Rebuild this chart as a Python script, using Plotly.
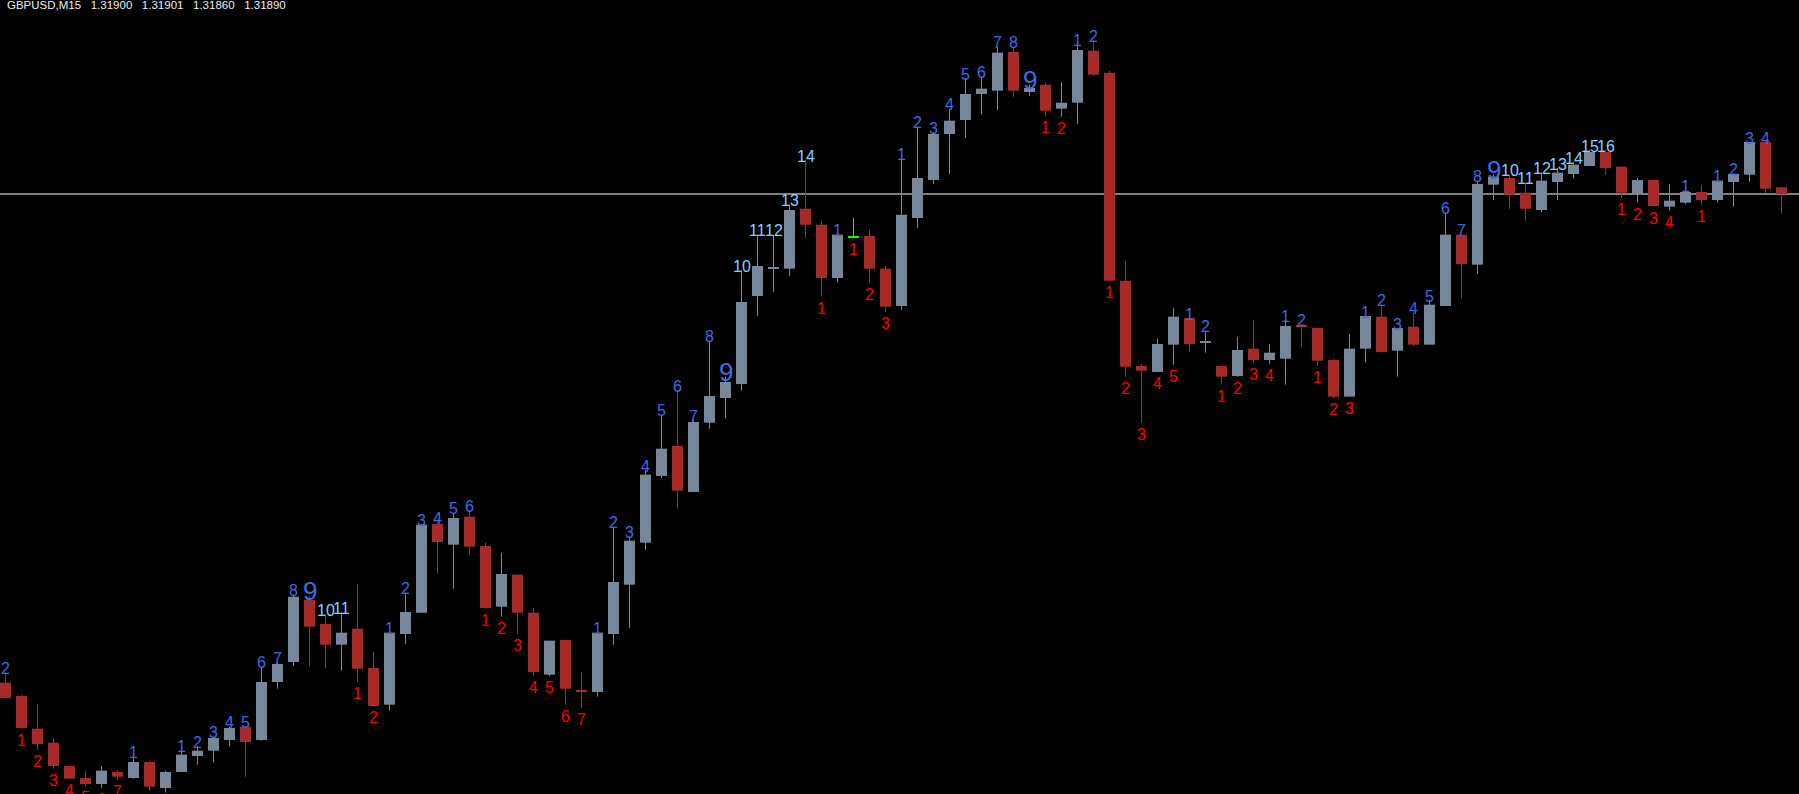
import plotly.graph_objects as go

symbol = "GBPUSD,M15"
bid = 1.31890

opens = [1.31157, 1.31137, 1.31088, 1.31067, 1.31032, 1.31014, 1.31005, 1.31023, 1.31014, 1.31038,
         1.30999, 1.31023, 1.31047, 1.31055, 1.31071, 1.31091, 1.31071, 1.31158, 1.31188, 1.31281,
         1.31245, 1.31214, 1.31238, 1.31179, 1.31124, 1.31230, 1.31262, 1.31395, 1.31364, 1.31406,
         1.31362, 1.31271, 1.31319, 1.31262, 1.31169, 1.31221, 1.31145, 1.31143, 1.31230, 1.31304,
         1.31367, 1.31467, 1.31512, 1.31443, 1.31547, 1.31584, 1.31605, 1.31737, 1.31778, 1.31778,
         1.31868, 1.31844, 1.31764, 1.31826, 1.31827, 1.31778, 1.31722, 1.31854, 1.31911, 1.31980,
         1.32001, 1.32040, 1.32045, 1.32103, 1.32043, 1.32054, 1.32018, 1.32027, 1.32105, 1.32072,
         1.31760, 1.31632, 1.31623, 1.31664, 1.31704, 1.31667, 1.31632, 1.31617, 1.31658, 1.31641,
         1.31643, 1.31692, 1.31689, 1.31641, 1.31586, 1.31658, 1.31706, 1.31655, 1.31691, 1.31664,
         1.31722, 1.31829, 1.31784, 1.31904, 1.31914, 1.31892, 1.31866, 1.31908, 1.31920, 1.31932,
         1.31953, 1.31931, 1.31890, 1.31911, 1.31871, 1.31877, 1.31893, 1.31881, 1.31908, 1.31919,
         1.31968, 1.31900]

highs = [1.31172, 1.31139, 1.31125, 1.31073, 1.31032, 1.31025, 1.31032, 1.31026, 1.31046, 1.31040,
         1.31025, 1.31056, 1.31062, 1.31076, 1.31091, 1.31092, 1.31181, 1.31188, 1.31289, 1.31287,
         1.31260, 1.31263, 1.31305, 1.31203, 1.31232, 1.31292, 1.31395, 1.31398, 1.31412, 1.31415,
         1.31367, 1.31352, 1.31319, 1.31269, 1.31220, 1.31221, 1.31173, 1.31232, 1.31391, 1.31376,
         1.31476, 1.31559, 1.31596, 1.31551, 1.31670, 1.31616, 1.31776, 1.31829, 1.31829, 1.31874,
         1.31941, 1.31850, 1.31829, 1.31854, 1.31836, 1.31782, 1.31944, 1.31991, 1.31983, 1.32018,
         1.32064, 1.32066, 1.32111, 1.32111, 1.32054, 1.32057, 1.32058, 1.32114, 1.32121, 1.32075,
         1.31790, 1.31635, 1.31673, 1.31719, 1.31704, 1.31685, 1.31632, 1.31676, 1.31701, 1.31665,
         1.31701, 1.31694, 1.31689, 1.31643, 1.31680, 1.31707, 1.31724, 1.31689, 1.31712, 1.31731,
         1.31862, 1.31829, 1.31910, 1.31919, 1.31919, 1.31907, 1.31922, 1.31929, 1.31938, 1.31956,
         1.31956, 1.31931, 1.31914, 1.31911, 1.31905, 1.31896, 1.31904, 1.31910, 1.31921, 1.31968,
         1.31968, 1.31901]

lows = [1.31134, 1.31088, 1.31056, 1.31028, 1.31013, 1.31002, 1.30999, 1.31011, 1.31013, 1.30995,
        1.30992, 1.31023, 1.31034, 1.31037, 1.31061, 1.31016, 1.31070, 1.31148, 1.31182, 1.31182,
        1.31179, 1.31175, 1.31158, 1.31122, 1.31115, 1.31215, 1.31262, 1.31320, 1.31298, 1.31349,
        1.31268, 1.31256, 1.31230, 1.31167, 1.31167, 1.31124, 1.31119, 1.31136, 1.31214, 1.31239,
        1.31356, 1.31464, 1.31418, 1.31443, 1.31538, 1.31553, 1.31595, 1.31707, 1.31743, 1.31767,
        1.31824, 1.31736, 1.31757, 1.31824, 1.31757, 1.31713, 1.31716, 1.31839, 1.31905, 1.31920,
        1.31974, 1.32009, 1.32016, 1.32036, 1.32037, 1.32007, 1.32006, 1.31995, 1.32067, 1.31760,
        1.31616, 1.31547, 1.31623, 1.31634, 1.31653, 1.31652, 1.31604, 1.31616, 1.31637, 1.31635,
        1.31604, 1.31661, 1.31632, 1.31584, 1.31586, 1.31637, 1.31652, 1.31616, 1.31662, 1.31664,
        1.31722, 1.31734, 1.31770, 1.31881, 1.31868, 1.31850, 1.31863, 1.31881, 1.31913, 1.31932,
        1.31919, 1.31884, 1.31877, 1.31871, 1.31865, 1.31875, 1.31874, 1.31877, 1.31871, 1.31908,
        1.31892, 1.31860]

closes = [1.31134, 1.31089, 1.31065, 1.31032, 1.31013, 1.31005, 1.31025, 1.31016, 1.31038, 1.31001,
          1.31023, 1.31049, 1.31055, 1.31074, 1.31089, 1.31068, 1.31158, 1.31185, 1.31286, 1.31241,
          1.31214, 1.31232, 1.31178, 1.31122, 1.31232, 1.31263, 1.31394, 1.31368, 1.31404, 1.31361,
          1.31269, 1.31320, 1.31262, 1.31173, 1.31220, 1.31148, 1.31144, 1.31232, 1.31308, 1.31370,
          1.31469, 1.31508, 1.31445, 1.31548, 1.31587, 1.31608, 1.31728, 1.31782, 1.31779, 1.31866,
          1.31844, 1.31764, 1.31829, 1.31826, 1.31778, 1.31721, 1.31859, 1.31914, 1.31980, 1.32000,
          1.32040, 1.32048, 1.32102, 1.32045, 1.32049, 1.32015, 1.32027, 1.32106, 1.32069, 1.31760,
          1.31631, 1.31625, 1.31665, 1.31706, 1.31665, 1.31668, 1.31616, 1.31656, 1.31641, 1.31652,
          1.31692, 1.31691, 1.31640, 1.31586, 1.31658, 1.31707, 1.31653, 1.31689, 1.31664, 1.31724,
          1.31829, 1.31785, 1.31905, 1.31916, 1.31889, 1.31868, 1.31910, 1.31922, 1.31934, 1.31953,
          1.31929, 1.31892, 1.31911, 1.31872, 1.31880, 1.31893, 1.31881, 1.31910, 1.31920, 1.31968,
          1.31898, 1.31890]

# consecutive-count labels (0 = no label)
up_count = [2, 0, 0, 0, 0, 0, 0, 0, 1, 0,
            0, 1, 2, 3, 4, 5, 6, 7, 8, 9,
            10, 11, 0, 0, 1, 2, 3, 4, 5, 6,
            0, 0, 0, 0, 0, 0, 0, 1, 2, 3,
            4, 5, 6, 7, 8, 9, 10, 11, 12, 13,
            14, 0, 1, 0, 0, 0, 1, 2, 3, 4,
            5, 6, 7, 8, 9, 0, 0, 1, 2, 0,
            0, 0, 0, 0, 1, 2, 0, 0, 0, 0,
            1, 2, 0, 0, 0, 1, 2, 3, 4, 5,
            6, 7, 8, 9, 10, 11, 12, 13, 14, 15,
            16, 0, 0, 0, 0, 1, 0, 1, 2, 3,
            4, 0]

down_count = [0, 1, 2, 3, 4, 5, 6, 7, 0, 0,
              0, 0, 0, 0, 0, 0, 0, 0, 0, 0,
              0, 0, 1, 2, 0, 0, 0, 0, 0, 0,
              1, 2, 3, 4, 5, 6, 7, 0, 0, 0,
              0, 0, 0, 0, 0, 0, 0, 0, 0, 0,
              0, 1, 0, 1, 2, 3, 0, 0, 0, 0,
              0, 0, 0, 0, 0, 1, 2, 0, 0, 1,
              2, 3, 4, 5, 0, 0, 1, 2, 3, 4,
              0, 0, 1, 2, 3, 0, 0, 0, 0, 0,
              0, 0, 0, 0, 0, 0, 0, 0, 0, 0,
              0, 1, 2, 3, 4, 0, 1, 0, 0, 0,
              0, 0]

BULL = "#778899"
BEAR = "#A52A2A"
DOJI = "#00FF00"
BLUE = "#4169E1"
LIGHT = "#87CEFA"
RED = "#FF0000"
FONT = "Liberation Sans, Arial, sans-serif"

n = len(opens)
idx = list(range(n))
min_body = 0.000015


def kind(i):
    if closes[i] > opens[i]:
        return "bull"
    if closes[i] < opens[i]:
        return "bear"
    return "doji"


fig = go.Figure()
for k, col in (("bull", BULL), ("bear", BEAR), ("doji", DOJI)):
    ids = [i for i in idx if kind(i) == k]
    wx, wy = [], []
    for i in ids:
        wx += [i, i, None]
        wy += [lows[i], highs[i], None]
    fig.add_trace(go.Scatter(x=wx, y=wy, mode="lines",
                             line=dict(color=col, width=1), hoverinfo="skip"))
    bases, heights = [], []
    for i in ids:
        lo, hi = min(opens[i], closes[i]), max(opens[i], closes[i])
        h = max(hi - lo, min_body)
        bases.append(lo - (h - (hi - lo)) / 2)
        heights.append(h)
    fig.add_trace(go.Bar(x=ids, y=heights, base=bases, width=11 / 16,
                         marker=dict(color=col, line=dict(width=0)), hoverinfo="skip"))

for i in idx:
    u = up_count[i]
    if u:
        if u == 9:
            size, col, ys = 26, BLUE, 5
        elif u >= 10:
            size, col, ys = 16, LIGHT, 4
        else:
            size, col, ys = 16, BLUE, 4
        fig.add_annotation(x=i, y=highs[i], text=str(u), showarrow=False,
                           xanchor="center", yanchor="middle", yshift=ys,
                           font=dict(family=FONT, size=size, color=col))
    d = down_count[i]
    if d:
        fig.add_annotation(x=i, y=lows[i], text=str(d), showarrow=False,
                           xanchor="center", yanchor="middle", yshift=-11.5,
                           font=dict(family=FONT, size=16, color=RED))

gap = "\u00a0" * 3
header = (f"{symbol}\u00a0\u00a0\u00a0{opens[-1]:.5f}{gap}{highs[-1]:.5f}{gap}"
          f"{lows[-1]:.5f}{gap}{closes[-1]:.5f}")
fig.add_annotation(xref="paper", yref="paper", x=0, y=1, text=header, showarrow=False,
                   xanchor="left", yanchor="top", xshift=5, yshift=3,
                   font=dict(family=FONT, size=11.5, color="#EEEEEE"))

fig.add_shape(type="line", xref="paper", x0=0, x1=1, yref="y", y0=bid, y1=bid,
              line=dict(color="white", width=1), layer="below")

x0 = -5.5 / 16
fig.update_layout(
    width=1799, height=794,
    margin=dict(l=0, r=0, t=0, b=0, pad=0),
    paper_bgcolor="black", plot_bgcolor="black",
    showlegend=False, barmode="overlay",
    xaxis=dict(range=[x0, x0 + 1799 / 16], visible=False, showgrid=False, zeroline=False),
    yaxis=dict(range=[1.30990, 1.32181], visible=False, showgrid=False, zeroline=False),
)

fig.write_html("out.html", config={"displayModeBar": False},
               post_script="document.body.style.margin='0px';document.body.style.overflow='hidden';")
